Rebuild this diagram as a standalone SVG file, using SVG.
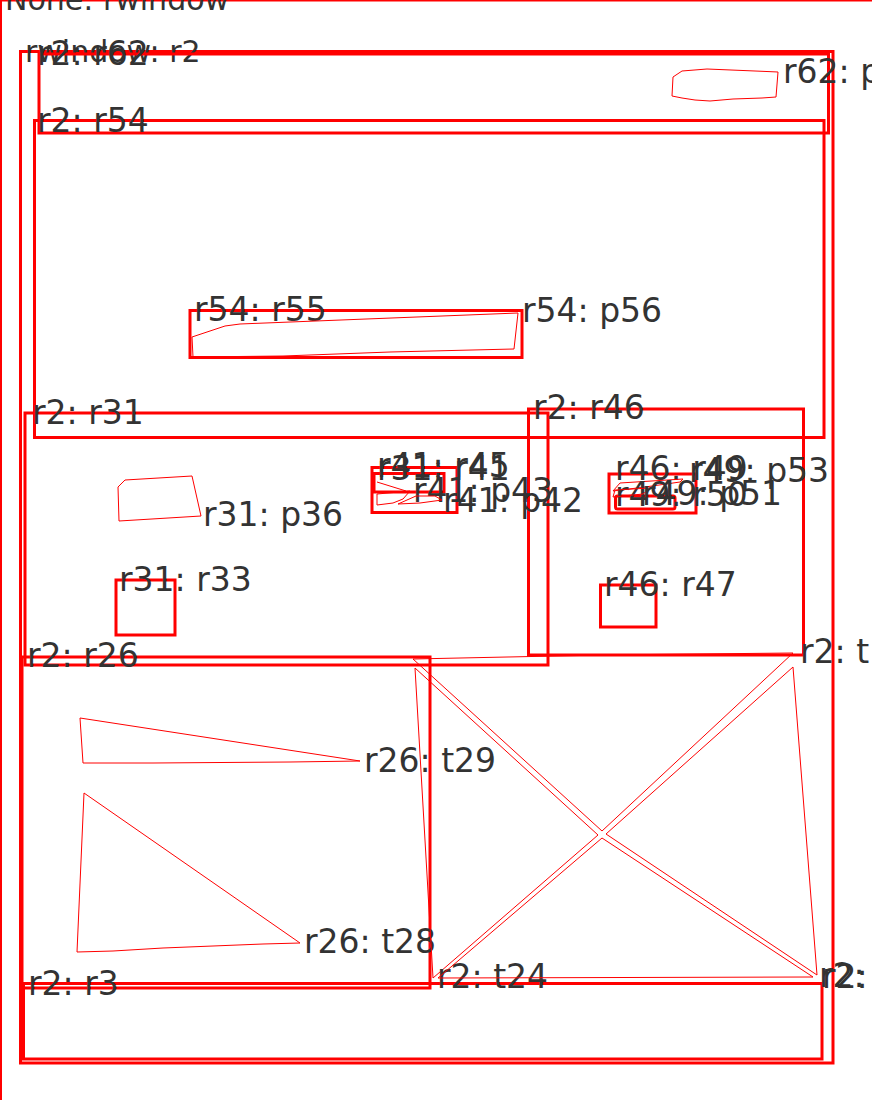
<svg xmlns="http://www.w3.org/2000/svg" width="872" height="1100" viewBox="0 0 872 1100">
<style>
.box{fill:none;stroke:#ff0000;stroke-width:3}
.poly{fill:none;stroke:#ff0000;stroke-width:1}
.lbl{font-family:'DejaVu Sans',sans-serif;font-size:33px;fill:#333333}
.lbw{font-family:'DejaVu Sans',sans-serif;font-size:30px;fill:#333333}
</style>
<rect width="872" height="1100" fill="#ffffff"/>
<g id="rwindow"><rect class="box" x="0.5" y="0" width="900" height="1120"/><text class="lbw" x="5" y="10">None: rwindow</text></g>
<g id="r2"><rect class="box" x="20.5" y="51.5" width="812.5" height="1011.5"/><text class="lbw" x="25" y="62">rwindow: r2</text></g>
<g id="r62"><rect class="box" x="39" y="54" width="789.5" height="79"/><text class="lbl" x="37" y="65">r2: r62</text></g>
<g id="p63"><polygon class="poly" points="778,72 755,71 707,69 682,71 673,77 672,96 682,98 695,100 710,101 733,99 762,98 776,97"/><text class="lbl" x="783" y="83">r62: p</text></g>
<g id="r54"><rect class="box" x="34.5" y="120.5" width="789.5" height="317"/><text class="lbl" x="37" y="132">r2: r54</text></g>
<g id="r55"><rect class="box" x="190" y="310.5" width="332" height="47"/><text class="lbl" x="194" y="321">r54: r55</text></g>
<g id="p56"><polygon class="poly" points="518,313 240,324 225,326 192,337 193,357 283,356 390,352 514,349"/><text class="lbl" x="522" y="322">r54: p56</text></g>
<g id="r31"><rect class="box" x="25" y="413" width="523" height="252"/><text class="lbl" x="32" y="424">r2: r31</text></g>
<g id="r46"><rect class="box" x="528.5" y="409" width="275" height="246"/><text class="lbl" x="533" y="419">r2: r46</text></g>
<g id="p36"><polygon class="poly" points="201,516 192,476 125,480 118,487 119,521"/><text class="lbl" x="203" y="526">r31: p36</text></g>
<g id="r33"><rect class="box" x="116" y="580" width="59" height="55"/><text class="lbl" x="119" y="591">r31: r33</text></g>
<g id="r41"><rect class="box" x="372" y="467.5" width="85" height="45"/><text class="lbl" x="377" y="480">r31: r41</text></g>
<g id="r45"><rect class="box" x="374" y="473.5" width="70" height="18.5"/><polyline class="poly" points="377,482 406,491"/><text class="lbl" x="377" y="477">r41: r45</text></g>
<g id="p43"><polygon class="poly" points="410,491 377,494 377,505 393,503 403,499"/><text class="lbl" x="413" y="502">r41: p43</text></g>
<g id="p42"><polygon class="poly" points="442,500 435,496 416,496 398,504 420,503"/><text class="lbl" x="443" y="512">r41: p42</text></g>
<g id="r47"><rect class="box" x="600.5" y="585" width="55.5" height="42"/><text class="lbl" x="604" y="596">r46: r47</text></g>
<g id="r49"><rect class="box" x="609" y="474" width="87" height="39"/><text class="lbl" x="615" y="480">r46: r49</text></g>
<g id="p53"><polygon class="poly" points="683,479 620,483 613,491 645,487 680,482"/><text class="lbl" x="689" y="482">r49: p53</text></g>
<g id="r50"><rect class="box" x="615.5" y="496" width="59.5" height="13" rx="2"/><text class="lbl" x="615" y="506">r49: r50</text></g>
<g id="p51"><polygon class="poly" points="643,494 613,497 615,490 650,488"/><text class="lbl" x="642" y="505">r49: p51</text></g>
<g id="r26"><rect class="box" x="22" y="657" width="408" height="331"/><text class="lbl" x="27" y="667">r2: r26</text></g>
<g id="t29"><polygon class="poly" points="360,761 80,718 83,763 153,763 290,762"/><text class="lbl" x="364" y="772">r26: t29</text></g>
<g id="t28"><polygon class="poly" points="300,943 84,793 77,952 113,951 163,948 263,944"/><text class="lbl" x="304" y="953">r26: t28</text></g>
<g id="r3"><rect class="box" x="23.5" y="983.5" width="798.5" height="75.5"/><text class="lbl" x="28" y="995">r2: r3</text></g>
<g id="t24"><polygon class="poly" points="433,978 415,668 598,835"/><text class="lbl" x="437" y="988">r2: t24</text></g>
<g id="t-top"><polygon class="poly" points="793,653 603,655 413,659 602,831"/><text class="lbl" x="800" y="663">r2: t</text></g>
<g id="t-right"><polygon class="poly" points="817,975 793,667 606,834"/><text class="lbl" x="819" y="987">r2:</text></g>
<g id="t-bottom"><polygon class="poly" points="813,977 438,978 602,838"/><text class="lbl" x="822" y="988">r2:</text></g>
<g id="connectors"></g>
</svg>
